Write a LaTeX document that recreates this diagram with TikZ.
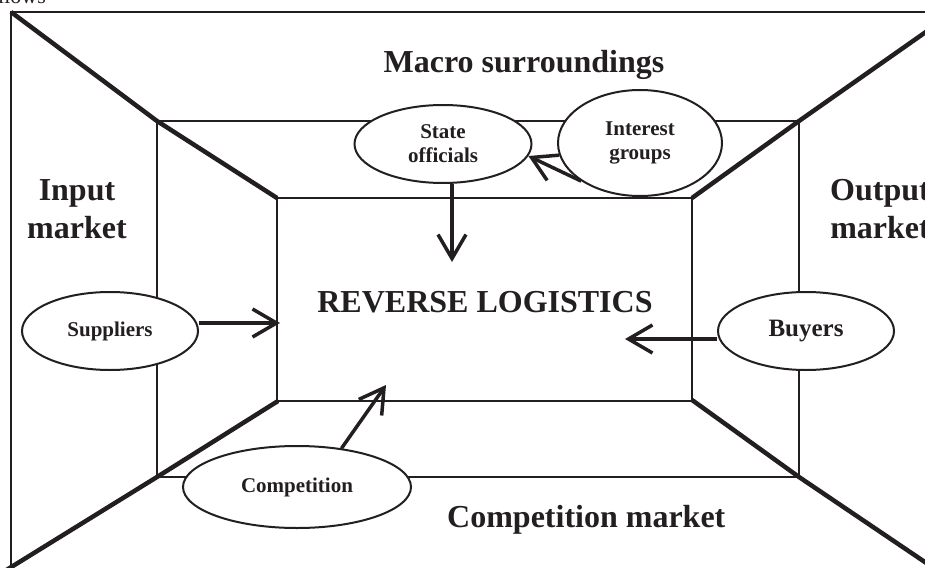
\documentclass[tikz,border=0pt]{standalone}
\usepackage{fontspec}
\setmainfont{Liberation Serif}
\usetikzlibrary{shapes.geometric,arrows.meta}
\definecolor{ink}{RGB}{35,31,32}
\begin{document}
\begin{tikzpicture}[x=1pt,y=-1pt,
  frame/.style={draw=ink,line width=1.8pt},
  diag/.style={draw=ink,line width=4.5pt},
  oval/.style={ellipse,draw=ink,line width=2pt,fill=white,inner sep=0pt,align=center,text=ink,font=\bfseries\fontsize{21}{24}\selectfont},
  title/.style={text=ink,font=\bfseries\fontsize{32}{38}\selectfont,align=center,inner sep=0pt},
  arr/.style={draw=ink,line width=3.5pt,-{Straight Barb[length=24pt,width=28pt]}}]
\useasboundingbox (0,0) rectangle (925,567);
\node[anchor=base west,inner sep=0pt,text=ink,font=\fontsize{22}{24}\selectfont] (tl) at (-2,4) {llows};
% frames
\draw[frame] (11,12) rectangle (955,575);
\draw[diag] (11,12) -- (157,121) -- (277,198);
\draw[diag] (692,198) -- (799,121) -- (960,8);
\draw[diag] (278,401) -- (157,477) -- (0,574);
\draw[diag] (692,400) -- (799,477) -- (950,579);
\draw[frame,line width=2pt] (157,121) rectangle (799,477);
\draw[frame,line width=2pt] (277,198) rectangle (692,401);
% ovals
\node[oval,minimum width=177pt,minimum height=78pt] (st) at (443,144) {State\\officials};
\node[oval,minimum width=164pt,minimum height=106pt] (ig) at (640,143) {Interest\\groups};
\node[oval,minimum width=176pt,minimum height=78pt] (sup) at (110,331) {Suppliers};
\node[oval,minimum width=176pt,minimum height=78pt,font=\bfseries\fontsize{25}{28}\selectfont] (buy) at (806,331) {Buyers};
\node[oval,minimum width=228pt,minimum height=82pt] (comp) at (297,487) {Competition};
% titles
\node[title,anchor=base] (macro) at (524,73) {Macro surroundings};
\node[title] (inp) at (77,209) {Input\\market};
\node[title] (outp) at (880,209) {Output\\market};
\node[title,anchor=base] (rl) at (485,312) {REVERSE LOGISTICS};
\node[title,anchor=base west] (cm) at (447,527) {Competition market};
% arrows
\coordinate (tS) at (280,323);
\draw[arr] (sup.east |- tS) -- (tS);
\coordinate (tB) at (625,339);
\draw[arr] (buy.west |- tB) -- (tB);
\coordinate (tT) at (452,262);
\draw[arr] (tT |- st.south) -- (tT);
\draw[arr] (ig.213) -- (st.-8);
\coordinate (tC) at (386,385);
\draw[arr] (comp.41) -- (tC);
\end{tikzpicture}
\end{document}
